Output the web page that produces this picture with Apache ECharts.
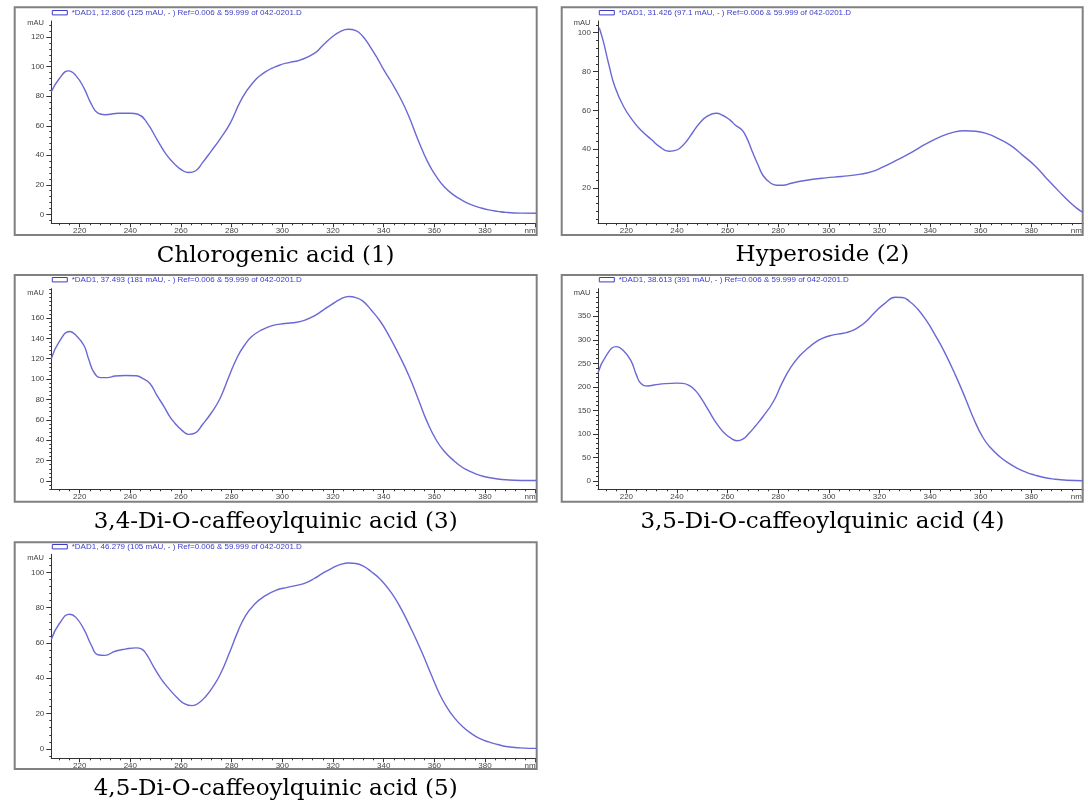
<!DOCTYPE html>
<html><head><meta charset="utf-8">
<script src="https://cdn.jsdelivr.net/npm/echarts@6/dist/echarts.min.js"></script>
<style>html,body{margin:0;padding:0;background:#fff}#c{width:1088px;height:805px}</style>
</head><body><div id="c"></div>
<script>
// ---- data ----
const xTicks = [220,240,260,280,300,320,340,360,380,400];

const wl1 = [208.8,212,215.6,218.5,221.7,224.5,227.2,230,235.4,240,243,246.4,250.6,254,257.5,260.5,263,265.8,268.5,272,275.4,279.5,283.6,287.8,293.3,298.8,303,307,312.6,316,319.5,323,326,329,331.8,334.5,337.4,340,342.9,346.5,349.8,353.9,357.5,360.8,364,367.7,371,374.5,378,381.4,385,388.3,394,400.4];
const abs1 = [83,92,97.2,94,85.5,75,68.5,67.5,68.5,68.5,67.8,62.5,50.5,41,34,29.8,28.3,29.5,35,43,51,62,77,88,96.5,101,103,104.5,109,114.5,120,124,125.4,124.5,120.5,114,106,98,90,79,67,49,35,25.5,18.5,13,9.5,6.5,4.5,3,2,1.3,0.8,0.7];

const wl2 = [209.3,211,213,215.5,218.9,223,226,229.9,233,236.8,239,241,244,246.4,249,252,255.5,258,261,263,265.6,267.5,269.7,272,274,276.6,279.3,282,285,290,298.8,305,312.6,317,320.8,327,333.2,338,344.2,349,353.9,358,362.1,367,371.8,376.5,381.4,386,391,395,398,400.4];
const abs2 = [102.5,95,84,72,62,54,49.5,45,41.5,39,39.3,40.4,44.5,49,53.5,57,58.5,57.5,55,52.5,50,46,39,32,26.5,23,21.5,21.5,22.5,23.8,25.3,26,27.2,28.5,30.5,34.5,38.8,42.5,46.5,48.7,49.5,49.3,48.2,45.5,42,37,31.5,25,18.2,13,9.6,7.5];

const wl3 = [208.8,212,216.1,218.5,221.7,223.5,225.8,228.5,231,234,238,242.3,245,247.8,250.5,253.3,255.5,257.5,260.5,263,265.5,268.5,272,275.4,279,282.3,285,287.8,292,296,301,305.7,309,312.6,316,319.5,323,326.3,329,331.8,335,338.7,342,345.6,350,354,357,360.8,364,367.7,371,374.5,378,381.4,385,388.3,394,400.4];
const abs3 = [120,137,146.7,143,133,120,106,101.5,101.5,103,103.5,103.3,100.5,95.5,84,73,63.5,57,49.5,45.8,47,55.5,67,81,103,122,133,141.5,148.5,152.5,154.5,155.8,158,162,167.5,173.3,178.5,181,180,176.5,168,156.5,143,126,103,78,59,40,29,20,13.5,9,5.5,3.5,2,1.2,0.6,0.5];

const wl4 = [208.8,212,216.1,218.5,221.7,224,225.8,228.5,231,235.4,240,242.3,245.1,247.5,249.9,252.5,254.7,256.8,258.8,261,263.7,266,268.5,271,274,278.1,281.5,285,288.5,291.9,294.5,297.4,301,305.7,308.5,311.2,314.5,318.1,322,326.3,329,331.8,335,338.7,342,345.6,350,354,357,360.8,364,367.7,371,374.5,378,381.4,385,388.3,394,400.4];
const abs4 = [230,266,285.5,279,257,225,207,202,204,207,208,207.5,202,191,173,150,130,114,101.5,92,85.5,89,101.5,117,137,169,208,242,266,283,294,303,309.5,314,318,325,338,358,377,390.5,390,382,366,339.5,310,275,225,175,135,93,70,51,38,27,18.5,12.5,7.5,4.5,1.5,0.5];

const wl5 = [208.8,212,216.1,218.5,221.7,224.5,227.2,229.9,234,238,242.3,244.5,246.4,249.2,252,254.7,258.8,261.5,264.4,267,269.9,272.5,275.4,279,282.3,285.5,289.1,293,297.4,302,307,310,312.6,316,319.5,323,326.3,329,331.8,335,338.7,343,347,351,355,358.5,362.1,365,367.7,371,374.5,378,381.4,385,388.3,394,400.4];
const abs5 = [62,71,76.3,74.5,67.7,59,53.3,53,55.3,56.5,57.2,56.5,53.5,46.5,40,35,28.5,25.5,24.5,26,30,35,42,54,66,75.5,82,86.5,89.8,91.5,93,94.5,96.5,99.5,102.3,104.5,105.3,105,103.6,100.5,96,88.5,79,67.5,55,43,31,23.5,18,12.8,8.8,5.8,4,2.5,1.4,0.6,0.3];

const yTicks1 = [0,20,40,60,80,100,120];
const yTicks2 = [20,40,60,80,100];
const yTicks3 = [0,20,40,60,80,100,120,140,160];
const yTicks4 = [0,50,100,150,200,250,300,350];
const yTicks5 = [0,20,40,60,80,100];

const legends = [
  '*DAD1, 12.806 (125 mAU, - ) Ref=0.006 & 59.999 of 042-0201.D',
  '*DAD1, 31.426 (97.1 mAU, - ) Ref=0.006 & 59.999 of 042-0201.D',
  '*DAD1, 37.493 (181 mAU, - ) Ref=0.006 & 59.999 of 042-0201.D',
  '*DAD1, 38.613 (391 mAU, - ) Ref=0.006 & 59.999 of 042-0201.D',
  '*DAD1, 46.279 (105 mAU, - ) Ref=0.006 & 59.999 of 042-0201.D'
];
const captions = [
  'Chlorogenic acid (1)',
  'Hyperoside (2)',
  '3,4-Di-O-caffeoylquinic acid (3)',
  '3,5-Di-O-caffeoylquinic acid (4)',
  '4,5-Di-O-caffeoylquinic acid (5)'
];
const yUnit = 'mAU';

// ---- layout ----
const X0 = 208.8, X1 = 400.4;
const panels = [
  {wl:wl1, v:abs1, yt:yTicks1, ymin:-6.1, ymax:131, ystep:4, grid:{left:51.3, top:21, width:485.4, height:202.3}, frame:[14.7,7.3,522,227.7], legY:12.7, unitY:22.7, capX:275.7, capY:256},
  {wl:wl2, v:abs2, yt:yTicks2, ymin:1.9, ymax:106, ystep:4, grid:{left:598, top:21, width:485, height:202.3}, frame:[561.7,7.3,521,227.7], legY:12.7, unitY:22.7, capX:822.4, capY:255},
  {wl:wl3, v:abs3, yt:yTicks3, ymin:-8.1, ymax:188.7, ystep:4, grid:{left:51.3, top:288.7, width:485.4, height:200.6}, frame:[14.7,275,522,226.7], legY:279.7, unitY:293, capX:275.7, capY:521.7},
  {wl:wl4, v:abs4, yt:yTicks4, ymin:-17.6, ymax:408.6, ystep:10, grid:{left:598, top:288.7, width:485, height:200.6}, frame:[561.7,275,521,226.7], legY:279.7, unitY:293, capX:822.4, capY:521.7},
  {wl:wl5, v:abs5, yt:yTicks5, ymin:-5.3, ymax:110.2, ystep:4, grid:{left:51.3, top:554.3, width:485.4, height:204}, frame:[14.7,542.3,522,226.7], legY:546.7, unitY:558.3, capX:275.7, capY:789.3}
];

function minors(min, max, step, majors) {
  const out = [];
  for (let v = Math.ceil(min / step) * step; v <= max + 1e-9; v += step) {
    const r = Math.round(v * 1000) / 1000;
    if (majors.indexOf(r) < 0) out.push(r);
  }
  return out;
}

const lineCol = '#6b68d6';
const axisCol = '#333';
const legCol = '#3c3cc8';
const grids = [], xAxes = [], yAxes = [], series = [], graphics = [];

panels.forEach((p, i) => {
  grids.push(Object.assign({containLabel:false, outerBoundsMode:'none'}, p.grid));
  const xMin = minors(X0, X1, 4, xTicks);
  xAxes.push({
    type:'value', gridIndex:i, min:X0, max:X1, position:'bottom',
    axisLine:{show:true, onZero:false, lineStyle:{color:axisCol, width:1}},
    axisTick:{show:true, customValues:xTicks, length:4, lineStyle:{color:axisCol}},
    axisLabel:{show:true, customValues:xTicks, margin:3, fontSize:8, color:'#444', fontFamily:'Liberation Sans, Arial',
      showMaxLabel:true, showMinLabel:true, alignMaxLabel:'right',
      formatter:v => (v === 400 ? 'nm' : String(v))},
    splitLine:{show:false}
  });
  xAxes.push({
    type:'value', gridIndex:i, min:X0, max:X1, position:'bottom', offset:0,
    axisLine:{show:false, onZero:false}, axisLabel:{show:false}, splitLine:{show:false},
    axisTick:{show:true, customValues:xMin, length:2, lineStyle:{color:axisCol}}
  });
  const yMin = minors(p.ymin, p.ymax, p.ystep, p.yt);
  yAxes.push({
    type:'value', gridIndex:i, min:p.ymin, max:p.ymax, position:'left',
    axisLine:{show:true, onZero:false, lineStyle:{color:axisCol, width:1}},
    axisTick:{show:true, customValues:p.yt, length:5, lineStyle:{color:axisCol}},
    axisLabel:{show:true, customValues:p.yt, margin:7, fontSize:8, color:'#444', fontFamily:'Liberation Sans, Arial'},
    splitLine:{show:false}
  });
  yAxes.push({
    type:'value', gridIndex:i, min:p.ymin, max:p.ymax, position:'left', offset:0,
    axisLine:{show:false, onZero:false}, axisLabel:{show:false}, splitLine:{show:false},
    axisTick:{show:true, customValues:yMin, length:2, lineStyle:{color:axisCol}}
  });
  series.push({
    type:'line', xAxisIndex:2*i, yAxisIndex:2*i,
    data:p.wl.map((w, k) => [w, p.v[k]]),
    smooth:0.5, showSymbol:false, symbol:'none',
    lineStyle:{color:lineCol, width:1.4}, silent:true
  });
  const f = p.frame;
  graphics.push({type:'rect', shape:{x:f[0], y:f[1], width:f[2], height:f[3]}, style:{fill:'none', stroke:'#808080', lineWidth:2}, z:1});
  graphics.push({type:'rect', shape:{x:f[0]+37.6, y:p.legY-2.2, width:15, height:4.4}, style:{fill:'#fff', stroke:legCol, lineWidth:1}});
  graphics.push({type:'text', x:f[0]+57, y:p.legY, style:{text:legends[i], fill:legCol, font:'8px "Liberation Sans", Arial', textVerticalAlign:'middle', textAlign:'left'}});
  graphics.push({type:'text', x:p.grid.left-7.5, y:p.unitY, style:{text:yUnit, fill:'#444', font:'7.5px "Liberation Sans", Arial', textVerticalAlign:'middle', textAlign:'right'}});
  graphics.push({type:'text', x:p.capX, y:p.capY, style:{text:captions[i], fill:'#000', font:'23px "DejaVu Serif", serif', textVerticalAlign:'middle', textAlign:'center'}});
});

const chart = echarts.init(document.getElementById('c'), null, {renderer:'canvas'});
chart.setOption({
  animation:false,
  backgroundColor:'#fff',
  grid:grids, xAxis:xAxes, yAxis:yAxes, series:series, graphic:graphics
});
</script></body></html>
